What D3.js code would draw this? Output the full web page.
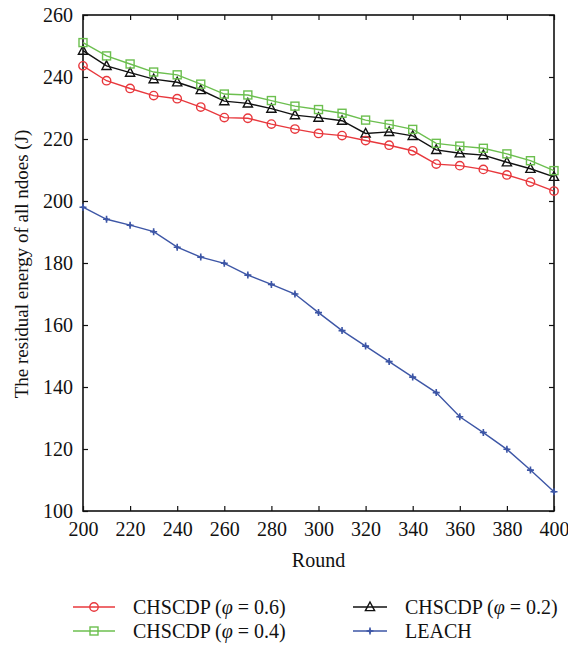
<!DOCTYPE html>
<html>
<head>
<meta charset="utf-8">
<script src="https://cdn.jsdelivr.net/npm/d3@7"></script>
<style>
  body { margin: 0; background: #fff; }
  svg { display: block; font-family: "Liberation Serif", "Times New Roman", serif; }
  svg text { font-family: "Liberation Serif", "Times New Roman", serif !important; }
</style>
</head>
<body>
<div id="chart"></div>
<script>
// data
var rounds = [200, 210, 220, 230, 240, 250, 260, 270, 280, 290, 300, 310, 320, 330, 340, 350, 360, 370, 380, 390, 400];
var phi06 = [243.6, 238.8, 236.3, 234.0, 233.0, 230.3, 226.9, 226.7, 224.8, 223.2, 221.8, 221.1, 219.5, 218.0, 216.2, 211.9, 211.4, 210.2, 208.4, 206.1, 203.2];
var phi04 = [251.1, 246.8, 244.2, 241.6, 240.7, 237.7, 234.5, 234.2, 232.4, 230.6, 229.5, 228.3, 226.1, 224.7, 223.1, 218.6, 217.7, 217.0, 215.2, 213.0, 209.8];
var phi02 = [248.5, 243.6, 241.4, 239.3, 238.3, 235.8, 232.2, 231.5, 229.8, 227.7, 226.9, 225.9, 221.8, 222.3, 221.0, 216.5, 215.4, 214.8, 212.5, 210.4, 207.8];
var leach = [198.0, 194.1, 192.2, 190.1, 185.1, 181.9, 179.9, 176.1, 173.1, 170.0, 164.0, 158.2, 153.2, 148.2, 143.2, 138.2, 130.4, 125.3, 119.9, 113.2, 106.2];
var xTicks = [200, 220, 240, 260, 280, 300, 320, 340, 360, 380, 400];
var yTicks = [100, 120, 140, 160, 180, 200, 220, 240, 260];

var series = [
  { name: "CHSCDP", phi: "0.6", values: phi06, color: "#e8383d", marker: "circle" },
  { name: "CHSCDP", phi: "0.4", values: phi04, color: "#6cbf4f", marker: "square" },
  { name: "CHSCDP", phi: "0.2", values: phi02, color: "#111111", marker: "triangle" },
  { name: "LEACH", phi: null, values: leach, color: "#3d56a6", marker: "plus" }
];

var width = 568, height = 646;
var margin = { top: 15, right: 14, bottom: 135, left: 83 };
var w = width - margin.left - margin.right;
var h = height - margin.top - margin.bottom;

var svg = d3.select("#chart").append("svg")
    .attr("width", width)
    .attr("height", height);

var g = svg.append("g")
    .attr("transform", "translate(" + margin.left + "," + margin.top + ")");

var x = d3.scaleLinear().domain([200, 400]).range([0, w]);
var y = d3.scaleLinear().domain([100, 260]).range([h, 0]);

// axes, ticks point inward and are mirrored on top / right
function styleAxis(sel) {
  sel.attr("font-family", null).attr("font-size", 20);
  sel.select(".domain").remove();
  sel.selectAll(".tick line").attr("stroke", "#111").attr("stroke-width", 1.2);
  sel.selectAll(".tick text").attr("fill", "#111");
}

g.append("g")
    .attr("transform", "translate(0," + h + ")")
    .call(d3.axisBottom(x).tickValues(xTicks).tickSize(-5).tickPadding(11))
    .call(styleAxis);
g.append("g")
    .call(d3.axisTop(x).tickValues(xTicks).tickSize(-5).tickFormat(""))
    .call(styleAxis);
g.append("g")
    .call(d3.axisLeft(y).tickValues(yTicks).tickSize(-5).tickPadding(10))
    .call(styleAxis);
g.append("g")
    .attr("transform", "translate(" + w + ",0)")
    .call(d3.axisRight(y).tickValues(yTicks).tickSize(-5).tickFormat(""))
    .call(styleAxis);

// frame
g.append("rect")
    .attr("width", w)
    .attr("height", h)
    .attr("fill", "none")
    .attr("stroke", "#111")
    .attr("stroke-width", 1.6);

// draws one marker at (cx, cy)
function drawMarker(sel, type, color, cx, cy) {
  if (type === "circle") {
    sel.append("circle").attr("cx", cx).attr("cy", cy).attr("r", 4.2)
        .attr("fill", "none").attr("stroke", color).attr("stroke-width", 1.4);
  } else if (type === "square") {
    sel.append("rect").attr("x", cx - 4).attr("y", cy - 4).attr("width", 8).attr("height", 8)
        .attr("fill", "none").attr("stroke", color).attr("stroke-width", 1.4);
  } else if (type === "triangle") {
    sel.append("path")
        .attr("d", "M" + cx + "," + (cy - 5) + "L" + (cx + 4.6) + "," + (cy + 3.6) + "L" + (cx - 4.6) + "," + (cy + 3.6) + "Z")
        .attr("fill", "none").attr("stroke", color).attr("stroke-width", 1.4);
  } else {
    sel.append("path")
        .attr("d", "M" + (cx - 3.5) + "," + cy + "H" + (cx + 3.5) + "M" + cx + "," + (cy - 3.5) + "V" + (cy + 3.5))
        .attr("stroke", color).attr("stroke-width", 1.6);
    sel.append("path")
        .attr("d", "M" + cx + "," + (cy - 2.2) + "L" + (cx + 2.2) + "," + cy + "L" + cx + "," + (cy + 2.2) + "L" + (cx - 2.2) + "," + cy + "Z")
        .attr("fill", color);
  }
}

var line = d3.line()
    .x(function(d) { return x(d[0]); })
    .y(function(d) { return y(d[1]); });

// lines + markers, LEACH drawn first so the others sit on top
series.slice().reverse().forEach(function(s) {
  var pts = rounds.map(function(r, i) { return [r, s.values[i]]; });
  var sg = g.append("g");
  sg.append("path")
      .datum(pts)
      .attr("fill", "none")
      .attr("stroke", s.color)
      .attr("stroke-width", 1.4)
      .attr("d", line);
  pts.forEach(function(p) {
    drawMarker(sg, s.marker, s.color, x(p[0]), y(p[1]));
  });
});

// axis titles
svg.append("text")
    .attr("x", margin.left + w / 2)
    .attr("y", 567)
    .attr("text-anchor", "middle")
    .style("font-size", "20px")
    .attr("fill", "#111")
    .text("Round");

svg.append("text")
    .attr("transform", "translate(28,264) rotate(-90)")
    .attr("text-anchor", "middle")
    .style("font-size", "19px")
    .attr("fill", "#111")
    .text("The residual energy of all ndoes (J)");

// legend, two columns
var legendPos = [
  { x: 73, y: 607, len: 42 },
  { x: 73, y: 631, len: 42 },
  { x: 353, y: 607, len: 34 },
  { x: 353, y: 631, len: 34 }
];

series.forEach(function(s, i) {
  var p = legendPos[i];
  var lg = svg.append("g");
  lg.append("line")
      .attr("x1", p.x).attr("x2", p.x + p.len)
      .attr("y1", p.y).attr("y2", p.y)
      .attr("stroke", s.color).attr("stroke-width", 1.4);
  drawMarker(lg, s.marker, s.color, p.x + p.len / 2, p.y);
  var t = lg.append("text")
      .attr("x", p.x + p.len + 18)
      .attr("y", p.y + 7)
      .style("font-size", "20px")
      .attr("fill", "#111");
  if (s.phi) {
    t.append("tspan").text(s.name + " (");
    t.append("tspan").style("font-style", "italic").text("φ");
    t.append("tspan").text(" = " + s.phi + ")");
  } else {
    t.text(s.name);
  }
});
</script>
</body>
</html>
